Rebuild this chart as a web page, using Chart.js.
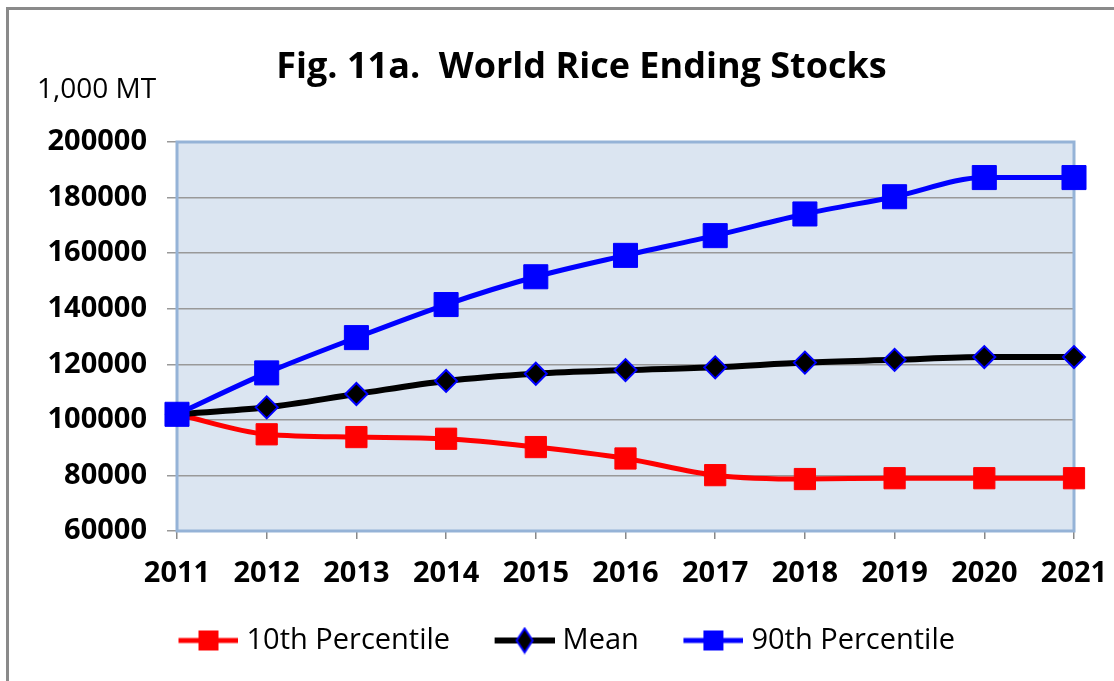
<!DOCTYPE html>
<html>
<head>
<meta charset="utf-8">
<title>World Rice Ending Stocks</title>
<script src="https://cdn.jsdelivr.net/npm/chart.js@4.4.1/dist/chart.umd.min.js"></script>
<style>
  html, body { margin: 0; padding: 0; background: #fff; }
  #wrap { position: relative; width: 1114px; height: 681px; overflow: hidden; }
  #frame { position: absolute; left: 6px; top: 7px; width: 1200px; height: 800px;
           border-left: 3px solid #8a8a8a; border-top: 3px solid #8a8a8a; }
  canvas { position: absolute; left: 0; top: 0; }
</style>
</head>
<body>
<div id="wrap">
  <div id="frame"></div>
  <canvas id="riceChart" width="1114" height="681"></canvas>
</div>
<script>
// data (1,000 MT)
const years = ["2011", "2012", "2013", "2014", "2015", "2016", "2017", "2018", "2019", "2020", "2021"];
const p10 = [102000, 94800, 93800, 93200, 90200, 86100, 80100, 78700, 79000, 79000, 79000];
const mean = [102000, 104500, 109300, 114000, 116600, 117900, 118900, 120600, 121600, 122600, 122600];
const p90 = [102000, 116900, 129600, 141500, 151500, 159200, 166300, 174100, 180300, 187200, 187200];
const seriesNames = ["10th Percentile", "Mean", "90th Percentile"];
const yMin = 60000, yMax = 200000, yStep = 20000;

const font = "Open Sans";
const legendBox = 78;

// line+marker pictures for the legend (blank on the left acts as item spacing)
function legendIcon(color, shape) {
  const c = document.createElement("canvas");
  c.width = legendBox + 13;
  c.height = 28;
  const ctx = c.getContext("2d");
  const x0 = c.width - 60, mid = c.width - 30;
  ctx.strokeStyle = color;
  ctx.lineWidth = shape === "diamond" ? 6 : 5;
  ctx.beginPath();
  ctx.moveTo(x0, 14);
  ctx.lineTo(c.width, 14);
  ctx.stroke();
  if (shape === "square") {
    ctx.fillStyle = color;
    ctx.fillRect(mid - 10, 4, 20, 20);
  } else {
    ctx.beginPath();
    ctx.moveTo(mid, 2);
    ctx.lineTo(mid + 8, 14);
    ctx.lineTo(mid, 26);
    ctx.lineTo(mid - 8, 14);
    ctx.closePath();
    ctx.fillStyle = "#000";
    ctx.fill();
    ctx.strokeStyle = "#0000ff";
    ctx.lineWidth = 2;
    ctx.stroke();
  }
  return c;
}
const icons = [legendIcon("#ff0000", "square"), legendIcon("#000000", "diamond"), legendIcon("#0000ff", "square")];

const plotArea = {
  id: "plotArea",
  afterLayout(chart) {
    // nudge title and legend boxes sideways like the original layout
    if (chart.titleBlock) { chart.titleBlock.left += 6; chart.titleBlock.right += 6; }
    if (chart.legend) { chart.legend.left -= 21; chart.legend.right -= 21; }
  },
  beforeDraw(chart) {
    const { ctx, chartArea: a } = chart;
    ctx.save();
    ctx.fillStyle = "#dbe5f1";
    ctx.fillRect(a.left, a.top, a.width, a.height);
    ctx.restore();
  },
  beforeDatasetsDraw(chart) {
    const { ctx, chartArea: a } = chart;
    ctx.save();
    ctx.strokeStyle = "#95b3d7";
    ctx.lineWidth = 3;
    ctx.strokeRect(a.left, a.top, a.width, a.height);
    ctx.restore();
  }
};

new Chart(document.getElementById("riceChart"), {
  type: "line",
  data: {
    labels: years,
    datasets: [
      {
        label: seriesNames[0],
        data: p10,
        order: 3,
        borderColor: "#ff0000",
        backgroundColor: "#ff0000",
        borderWidth: 5,
        pointStyle: "rect",
        pointRadius: 15,
        pointBorderWidth: 1,
        pointBorderColor: "#ff0000",
        pointBackgroundColor: "#ff0000",
        cubicInterpolationMode: "monotone",
        clip: false
      },
      {
        label: seriesNames[1],
        data: mean,
        order: 2,
        borderColor: "#000000",
        backgroundColor: "#000000",
        borderWidth: 6,
        pointStyle: "rectRot",
        pointRadius: 11,
        pointBorderWidth: 2,
        pointBorderColor: "#0000ff",
        pointBackgroundColor: "#000000",
        cubicInterpolationMode: "monotone",
        clip: false
      },
      {
        label: seriesNames[2],
        data: p90,
        order: 1,
        borderColor: "#0000ff",
        backgroundColor: "#0000ff",
        borderWidth: 5,
        pointStyle: "rect",
        pointRadius: 17,
        pointBorderWidth: 1,
        pointBorderColor: "#0000ff",
        pointBackgroundColor: "#0000ff",
        cubicInterpolationMode: "monotone",
        clip: false
      }
    ]
  },
  options: {
    responsive: false,
    animation: false,
    layout: { padding: { left: 37, right: 0, top: 0, bottom: 16 } },
    scales: {
      x: {
        offset: false,
        grid: { drawOnChartArea: false, drawTicks: true, tickLength: 8, color: "#888", lineWidth: 1.5 },
        border: { display: true, color: "#888", width: 1.5 },
        ticks: { color: "#000", padding: 17, autoSkip: false, maxRotation: 0,
                 font: { family: font, size: 29, weight: "bold" } },
        afterFit: s => { s.height = 75; s.paddingRight = 40; }
      },
      y: {
        min: yMin,
        max: yMax,
        grid: { color: "#999", lineWidth: 1.5, tickLength: 10 },
        border: { display: false },
        ticks: { stepSize: yStep, color: "#000", padding: 20,
                 callback: v => String(v),
                 font: { family: font, size: 29, weight: "bold" } },
        afterFit: s => { s.width = 140; }
      }
    },
    plugins: {
      title: {
        display: true,
        text: "Fig. 11a.  World Rice Ending Stocks",
        color: "#000",
        font: { family: font, size: 36, weight: "bold", lineHeight: 1 },
        padding: { top: 50, bottom: -10 }
      },
      subtitle: {
        display: true,
        text: "1,000 MT",
        align: "start",
        color: "#000",
        font: { family: font, size: 28, lineHeight: 1 },
        padding: { top: 0, bottom: 38 }
      },
      legend: {
        position: "bottom",
        labels: {
          usePointStyle: true,
          pointStyleWidth: legendBox,
          padding: 20,
          color: "#000",
          font: { family: font, size: 29 },
          sort: (a, b) => a.datasetIndex - b.datasetIndex,
          generateLabels: chart => {
            const items = Chart.defaults.plugins.legend.labels.generateLabels(chart);
            items.forEach(it => { it.pointStyle = icons[it.datasetIndex]; it.rotation = 0; });
            return items;
          }
        }
      },
      tooltip: { enabled: false }
    }
  },
  plugins: [plotArea]
});
</script>
</body>
</html>
